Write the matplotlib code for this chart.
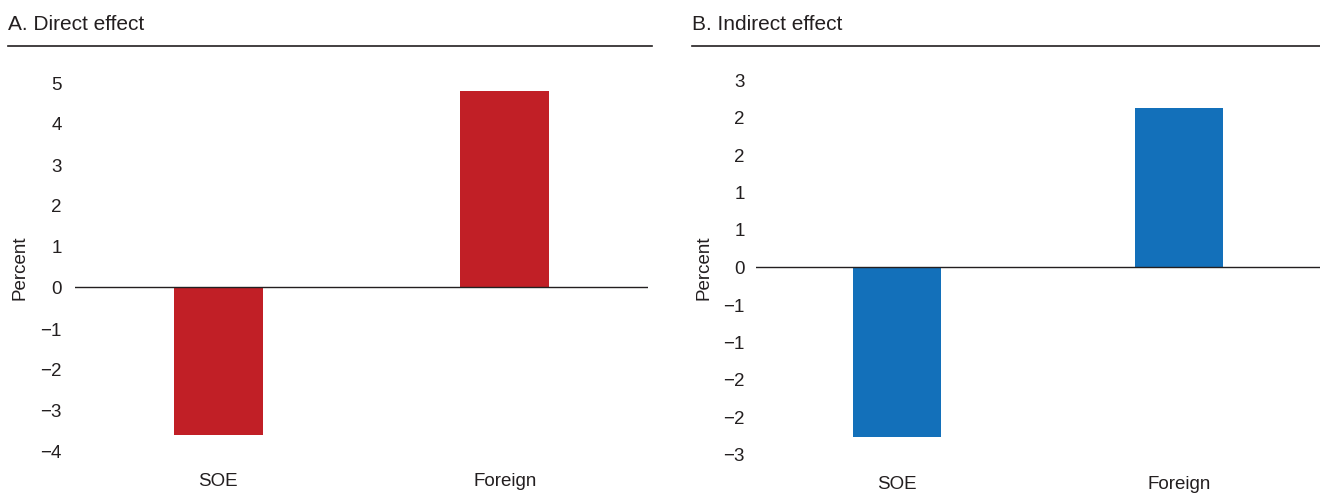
import matplotlib
matplotlib.use("Agg")
import matplotlib.pyplot as plt
from matplotlib.lines import Line2D
from matplotlib.ticker import FixedLocator, FuncFormatter

plt.rcParams["font.family"] = ["Liberation Sans", "DejaVu Sans"]
plt.rcParams["axes.unicode_minus"] = True

categories = ["SOE", "Foreign"]
direct_vals = [-3.6, 4.78]
indirect_vals = [-2.72, 2.53]
direct_ticks = [-4, -3, -2, -1, 0, 1, 2, 3, 4, 5]
indirect_ticks = [-3, -2.4, -1.8, -1.2, -0.6, 0, 0.6, 1.2, 1.8, 2.4, 3]

RED = "#C11F26"; BLUE = "#1370BA"; INK = "#231F20"
W, H = 1320, 502

fig = plt.figure(figsize=(W / 100, H / 100), dpi=100)

def px_axes(x0, x1, ytop, ybot):
    return fig.add_axes([x0 / W, 1 - ybot / H, (x1 - x0) / W, (ybot - ytop) / H])

def fmt(v, _):
    s = f"{v:.0f}"
    if s == "-0":
        s = "0"
    return s.replace("-", "\u2212")

def panel(ax, vals, color, ticks, ylim, title, tx, line_x0, line_x1, ypad, lab_x):
    x = range(len(categories))
    ax.bar(x, vals, width=0.31, color=color, zorder=2)
    ax.axhline(0, color=INK, lw=1.0, zorder=3)
    ax.set_xlim(-0.5, 1.5)
    ax.set_ylim(*ylim)
    ax.yaxis.set_major_locator(FixedLocator(ticks))
    ax.yaxis.set_major_formatter(FuncFormatter(fmt))
    ax.set_xticks(list(x))
    ax.set_xticklabels(categories)
    for s in ax.spines.values():
        s.set_visible(False)
    ax.tick_params(length=0, labelsize=13.5, colors=INK)
    ax.tick_params(axis="y", pad=ypad)
    ax.tick_params(axis="x", pad=15)
    ax.set_ylabel("Percent", fontsize=13.5, color=INK)
    ax.yaxis.set_label_coords(lab_x, 0.5)
    fig.text(tx / W, 1 - 25 / H, title, fontsize=15, color=INK, va="center", ha="left")
    fig.add_artist(Line2D([line_x0 / W, line_x1 / W], [1 - 47 / H] * 2,
                          color=INK, lw=1.2))

ax1 = px_axes(75, 648, 83, 452)
panel(ax1, direct_vals, RED, direct_ticks, (-4, 5), "A. Direct effect", 8, 8, 652,
      9.5, -0.082)

ax2 = px_axes(756, 1320, 80, 455)
panel(ax2, indirect_vals, BLUE, indirect_ticks, (-3, 3), "B. Indirect effect", 692, 692, 1320,
      8, -0.078)

fig.savefig("out.png", dpi=100)
